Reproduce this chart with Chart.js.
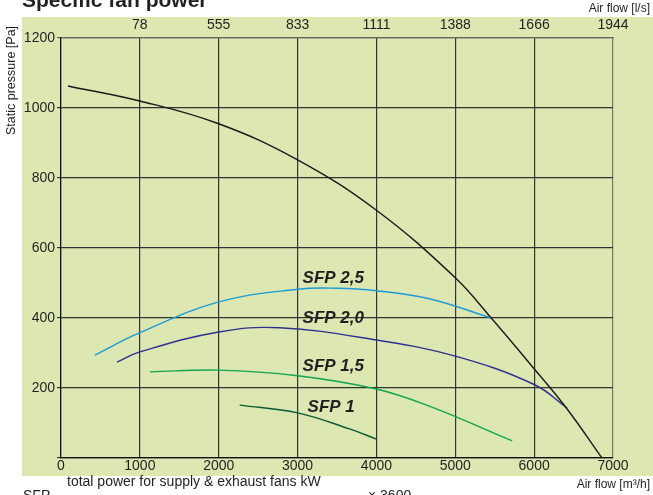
<!DOCTYPE html>
<html>
<head>
<meta charset="utf-8">
<style>
  html, body { margin: 0; padding: 0; background: #fff; }
</style>
<script src="https://cdn.jsdelivr.net/npm/chart.js@4/dist/chart.umd.min.js"></script>
</head>
<body>
<canvas id="chart" width="653" height="495"></canvas>
<script>
// air flow in m3/h, static pressure in Pa
const fanFlow = [89, 1000, 2000, 3000, 4000, 5000, 5456, 6000, 6418, 6860];
const fanPressure = [1063, 1020, 955, 852, 708, 515, 400, 255, 140, 0];

const sfp25Flow = [430, 1000, 2000, 3000, 3500, 4000, 4670, 5456];
const sfp25Pressure = [294, 358, 446, 482, 485, 478, 455, 400];

const sfp20Flow = [709, 1000, 2000, 2772, 4000, 5000, 6000, 6418];
const sfp20Pressure = [274, 303, 360, 372, 337, 291, 210, 143];

const sfp15Flow = [1127, 2000, 3000, 4000, 4670, 5722];
const sfp15Pressure = [246, 251, 235, 197, 148, 49];

const sfp10Flow = [2266, 3000, 3658, 4000];
const sfp10Pressure = [151, 129, 83, 54];

const flowTicks = [0, 1000, 2000, 3000, 4000, 5000, 6000, 7000];
const litreTicks = ['', '78', '555', '833', '1111', '1388', '1666', '1944'];
const pressureTicks = [0, 200, 400, 600, 800, 1000, 1200];

const curveNames = ['SFP 2,5', 'SFP 2,0', 'SFP 1,5', 'SFP 1'];
const curveLabelAt = [[3063, 514], [3063, 400], [3063, 263], [3127, 146]];

function points(xs, ys) {
    return xs.map((x, i) => ({ x: x, y: ys[i] }));
}

const textColor = '#231f20';

const decorations = {
    id: 'decorations',
    beforeDraw(chart) {
        const ctx = chart.ctx;
        ctx.save();
        ctx.fillStyle = '#fff';
        ctx.fillRect(0, 0, chart.width, chart.height);
        ctx.fillStyle = '#dce7b1';
        ctx.fillRect(22, 17, chart.width - 22, 476 - 17);
        ctx.restore();
    },
    afterDraw(chart) {
        const ctx = chart.ctx;
        const xs = chart.scales.x;
        const ys = chart.scales.y;
        ctx.save();
        ctx.fillStyle = textColor;

        // curve names
        ctx.font = 'italic bold 17px Arial, "Liberation Sans", sans-serif';
        ctx.textBaseline = 'middle';
        ctx.textAlign = 'left';
        curveNames.forEach((name, i) => {
            ctx.fillText(name, xs.getPixelForValue(curveLabelAt[i][0]), ys.getPixelForValue(curveLabelAt[i][1]));
        });

        // title, cut by the top edge
        ctx.font = 'bold 21px Arial, "Liberation Sans", sans-serif';
        ctx.textBaseline = 'alphabetic';
        ctx.fillText('Specific fan power', 22, 7);

        ctx.font = '12px Arial, "Liberation Sans", sans-serif';
        ctx.textAlign = 'right';
        ctx.fillText('Air flow [l/s]', 650, 12);
        ctx.textBaseline = 'middle';
        ctx.fillText('Air flow [m\u00b3/h]', 650, 485);

        // formula, cut by the bottom edge
        ctx.textAlign = 'left';
        ctx.textBaseline = 'top';
        ctx.font = '14px Arial, "Liberation Sans", sans-serif';
        ctx.fillText('total power for supply & exhaust fans kW', 67, 475);
        ctx.fillText('SFP', 23, 489);
        ctx.fillText('\u00d7 3600', 368, 489);

        // y axis title
        ctx.translate(12, 135);
        ctx.rotate(-Math.PI / 2);
        ctx.textAlign = 'left';
        ctx.textBaseline = 'middle';
        ctx.font = '12.5px Arial, "Liberation Sans", sans-serif';
        ctx.fillText('Static pressure [Pa]', 0, 0);
        ctx.restore();
    }
};

const tickFont = { family: 'Arial, "Liberation Sans", sans-serif', size: 14 };

new Chart(document.getElementById('chart'), {
    type: 'line',
    data: {
        datasets: [
            { label: 'Fan', data: points(fanFlow, fanPressure), borderColor: '#1a1a1a' },
            { label: 'SFP 2,5', data: points(sfp25Flow, sfp25Pressure), borderColor: '#1d9bd7' },
            { label: 'SFP 2,0', data: points(sfp20Flow, sfp20Pressure), borderColor: '#2e3192' },
            { label: 'SFP 1,5', data: points(sfp15Flow, sfp15Pressure), borderColor: '#12a64f' },
            { label: 'SFP 1', data: points(sfp10Flow, sfp10Pressure), borderColor: '#0b5a32' }
        ]
    },
    options: {
        responsive: false,
        animation: false,
        devicePixelRatio: 1,
        layout: { padding: { left: 0, right: 40, top: 0, bottom: 0 } },
        elements: {
            point: { radius: 0 },
            line: { borderWidth: 1.4, fill: false, tension: 0.4 }
        },
        plugins: {
            legend: { display: false },
            tooltip: { enabled: false }
        },
        scales: {
            x: {
                type: 'linear',
                position: 'bottom',
                min: 0,
                max: 7000,
                afterBuildTicks: (s) => { s.ticks = flowTicks.map(v => ({ value: v })); },
                afterFit: (s) => { s.height = 37; },
                ticks: {
                    font: tickFont,
                    color: textColor,
                    padding: 0,
                    maxRotation: 0,
                    callback: (v) => String(v)
                },
                grid: {
                    drawTicks: false,
                    lineWidth: 1.2,
                    color: (c) => c.tick && c.tick.value === 7000 ? '#7a7a6a' : '#333'
                },
                border: { color: '#111', width: 1.2 }
            },
            x2: {
                type: 'linear',
                position: 'top',
                min: 0,
                max: 7000,
                afterBuildTicks: (s) => { s.ticks = flowTicks.map(v => ({ value: v })); },
                afterFit: (s) => { s.height = 38; },
                ticks: {
                    font: tickFont,
                    color: textColor,
                    padding: 4,
                    maxRotation: 0,
                    callback: (v) => litreTicks[flowTicks.indexOf(v)]
                },
                grid: { display: false, drawTicks: false },
                border: { color: '#6a6a5a', width: 1.2 }
            },
            y: {
                min: 0,
                max: 1200,
                afterBuildTicks: (s) => { s.ticks = pressureTicks.map(v => ({ value: v })); },
                afterFit: (s) => { s.width = 61; },
                ticks: {
                    font: tickFont,
                    color: textColor,
                    padding: 2,
                    callback: (v) => v === 0 ? '' : String(v)
                },
                grid: {
                    tickLength: 4,
                    lineWidth: 1.2,
                    color: (c) => c.tick && c.tick.value === 1200 ? '#6a6a5a' : '#333'
                },
                border: { color: '#111', width: 1.2 }
            }
        }
    },
    plugins: [decorations]
});
</script>
</body>
</html>
